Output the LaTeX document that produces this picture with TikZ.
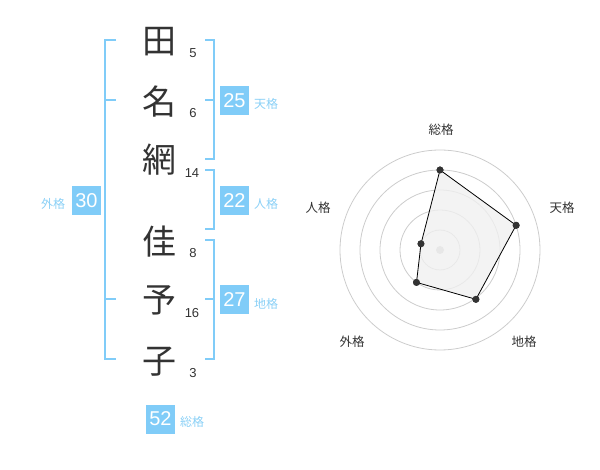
\documentclass[tikz,border=0pt]{standalone}
\usepackage{fontspec}
\setmainfont{Liberation Sans}
\newfontfamily\jpfont{Noto Sans CJK JP}
\definecolor{kakublue}{HTML}{80CCF8}
\definecolor{kakulabel}{HTML}{8AD0F6}
\definecolor{inkgray}{HTML}{333333}
\begin{document}
\begin{tikzpicture}[x=1pt, y=-1pt,
  char node/.style={text=inkgray,font=\jpfont\fontsize{34}{34}\selectfont,inner sep=0pt},
  stroke node/.style={text=inkgray,font=\fontsize{13}{13}\selectfont,inner sep=0pt},
  score node/.style={fill=kakublue,text=white,font=\fontsize{20}{20}\selectfont,minimum size=29pt,inner sep=0pt},
  kaku node/.style={text=kakulabel,font=\jpfont\fontsize{12}{12}\selectfont,inner sep=0pt},
  axis node/.style={text=inkgray,font=\jpfont\fontsize{12.5}{12.5}\selectfont,inner sep=0pt},
  bracket/.style={draw=kakublue,line width=2pt},
  ring/.style={draw=black!20,line width=0.8pt},
  dot node/.style={circle,fill=inkgray,minimum size=7pt,inner sep=0pt}]
\useasboundingbox (0,0) rectangle (600,470);
% name
\begin{scope}[every node/.style={char node}]
\node (c1) at (159,42) {田};
\node (c2) at (159,102) {名};
\node (c3) at (159,160) {網};
\node (c4) at (159,242) {佳};
\node (c5) at (159,300) {予};
\node (c6) at (159,362) {子};
\end{scope}
\begin{scope}[every node/.style={stroke node}]
\node (s1) at (193,53) {5};
\node (s2) at (193,113) {6};
\node (s3) at (192,173) {14};
\node (s4) at (193,253) {8};
\node (s5) at (192,313) {16};
\node (s6) at (193,373) {3};
\end{scope}
% brackets
\coordinate (ga) at (116,40);  \coordinate (gb) at (105,40);
\coordinate (gc) at (105,359); \coordinate (gd) at (116,359);
\coordinate (ge) at (105,100); \coordinate (gf) at (116,100);
\coordinate (gg) at (105,299); \coordinate (gh) at (116,299);
\draw[bracket] (ga) -- (gb) -- (gc) -- (gd) (ge) -- (gf) (gg) -- (gh);
\coordinate (ta) at (205,40);  \coordinate (tb) at (214,40);
\coordinate (tc) at (214,159); \coordinate (td) at (205,159);
\coordinate (te) at (214,100); \coordinate (tf) at (205,100);
\draw[bracket] (ta) -- (tb) -- (tc) -- (td) (te) -- (tf);
\coordinate (ja) at (205,170); \coordinate (jb) at (214,170);
\coordinate (jc) at (214,229); \coordinate (jd) at (205,229);
\draw[bracket] (ja) -- (jb) -- (jc) -- (jd);
\coordinate (ca) at (205,240); \coordinate (cb) at (214,240);
\coordinate (cc) at (214,359); \coordinate (cd) at (205,359);
\coordinate (ce) at (214,299); \coordinate (cf) at (205,299);
\draw[bracket] (ca) -- (cb) -- (cc) -- (cd) (ce) -- (cf);
% scores
\node [score node](ten) at (234.5,100.5) {25};
\node [kaku node](tenl) at (266,104) {天格};
\node [score node](jin) at (234.5,200.5) {22};
\node [kaku node](jinl) at (266,204) {人格};
\node [score node](chi) at (234.5,300) {27};
\node [kaku node](chil) at (266,304) {地格};
\node [score node](gai) at (86.5,200.5) {30};
\node [kaku node](gail) at (53,204) {外格};
\node [score node](sou) at (160.5,419) {52};
\node [kaku node](soul) at (192,422) {総格};
% radar
\coordinate (o) at (440,250);
\foreach \r in {20,40,60,80,100}
  \draw[ring] (o) circle (\r);
\fill[black!22] (o) circle (4);
\begin{scope}[every node/.style={dot node}]
\node (p1) at (440,170) {};
\node (p2) at (516.1,225.3) {};
\node (p3) at (475.9,299.3) {};
\node (p4) at (416.5,282.4) {};
\node (p5) at (421,243.8) {};
\end{scope}
\draw[fill=black!6,fill opacity=0.8,line width=0.8pt] (p1.center) -- (p2.center) -- (p3.center) -- (p4.center) -- (p5.center) -- cycle;
\foreach \p in {p1,p2,p3,p4,p5}
  \fill[inkgray] (\p) circle (3.5);
\begin{scope}[every node/.style={axis node}]
\node (a1) at (441,130) {総格};
\node (a2) at (562,208) {天格};
\node (a3) at (524,342) {地格};
\node (a4) at (352,342) {外格};
\node (a5) at (318,208) {人格};
\end{scope}
\end{tikzpicture}
\end{document}
